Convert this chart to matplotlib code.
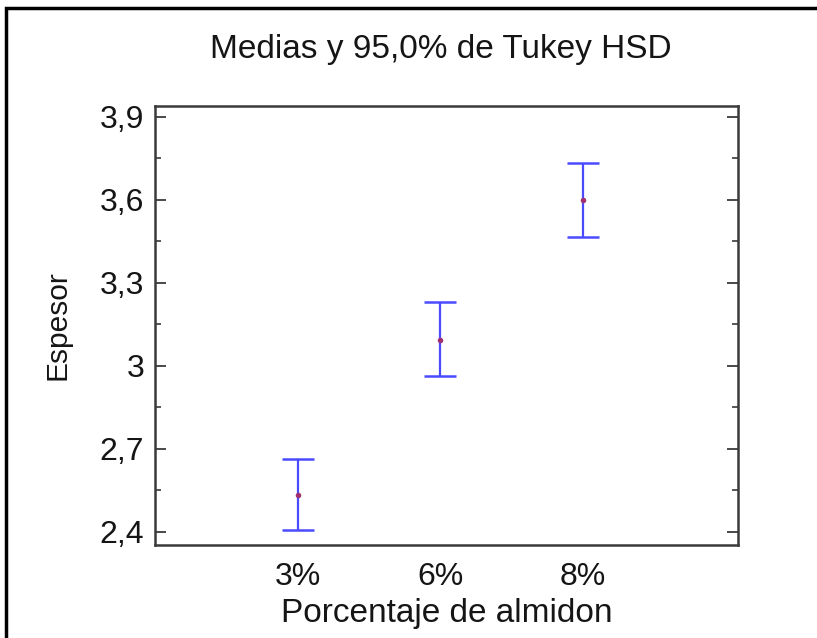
import matplotlib
matplotlib.use("Agg")
import matplotlib.pyplot as plt
from matplotlib.patches import Rectangle
from matplotlib.ticker import MultipleLocator, FixedLocator

# Tukey HSD means and 95% intervals
categories = ["3%", "6%", "8%"]
means = [2.535, 3.095, 3.600]
lower = [2.405, 2.962, 3.465]
upper = [2.665, 3.230, 3.735]
y_ticks = [2.4, 2.7, 3.0, 3.3, 3.6, 3.9]
y_tick_labels = ["2,4", "2,7", "3", "3,3", "3,6", "3,9"]

plt.rcParams["font.family"] = ["Liberation Sans", "DejaVu Sans"]
text_color = "#151515"
spine_color = "#3a3a3a"

fig = plt.figure(figsize=(8.17, 6.38), dpi=100)
ax = fig.add_axes([0.190, 0.146, 0.713, 0.688])

xs = list(range(1, len(categories) + 1))
err_lo = [m - lo for m, lo in zip(means, lower)]
err_hi = [hi - m for m, hi in zip(means, upper)]
ax.errorbar(xs, means, yerr=[err_lo, err_hi], fmt="none",
            ecolor="#4a4aff", elinewidth=1.6, capsize=11.5, capthick=1.8)
ax.plot(xs, means, linestyle="none", marker="o", markersize=4,
        color="#a03070", markeredgewidth=0)

ax.set_xlim(0, 4.09)
ax.set_ylim(2.353, 3.94)
ax.set_xticks(xs)
ax.set_xticklabels(categories)
ax.yaxis.set_major_locator(FixedLocator(y_ticks))
ax.set_yticklabels(y_tick_labels)
ax.yaxis.set_minor_locator(MultipleLocator(0.15))

ax.tick_params(axis="y", which="major", direction="in", length=8, width=1.3,
               left=True, right=True, labelsize=23, pad=8, colors=spine_color,
               labelcolor=text_color)
ax.tick_params(axis="y", which="minor", direction="in", length=4, width=1.2,
               left=True, right=True, colors=spine_color)
ax.tick_params(axis="x", which="both", length=0, labelsize=23, pad=12,
               labelcolor=text_color)

for side in ax.spines.values():
    side.set_color(spine_color)
    side.set_linewidth(1.8)

ax.set_xlabel("Porcentaje de almidon", fontsize=24, color=text_color, labelpad=5)
ax.set_ylabel("Espesor", fontsize=21.5, color=text_color, labelpad=20)
fig.text(0.54, 0.922, "Medias y 95,0% de Tukey HSD", ha="center", va="center",
         fontsize=24, color=text_color)

# outer black frame, cut off at right and bottom like the reference
fig.patches.append(Rectangle((6 / 817, -0.1), 1.5, 1 - 8 / 638 + 0.1,
                             transform=fig.transFigure, fill=False,
                             edgecolor="black", linewidth=2.5, clip_on=False))

fig.savefig("out.png", dpi=100)
